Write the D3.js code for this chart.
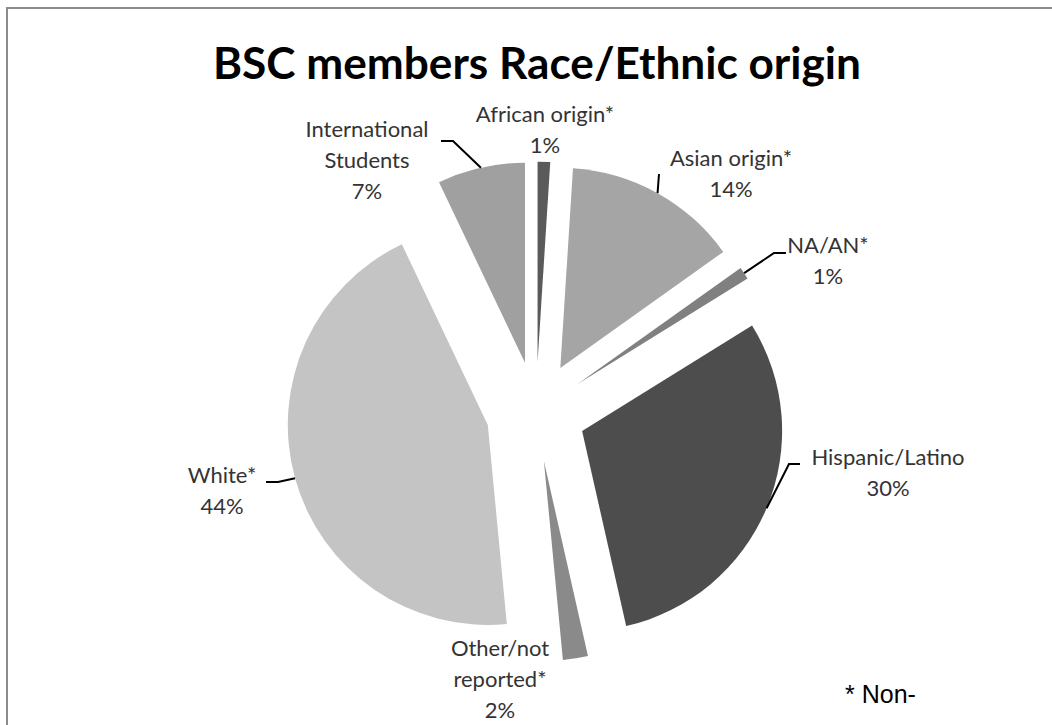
<!DOCTYPE html>
<html>
<head>
<meta charset="utf-8">
<script src="https://cdn.jsdelivr.net/npm/d3@7"></script>
<style>
  body { margin: 0; background: #fff; }
  svg { display: block; }
</style>
</head>
<body>
<svg id="chart" width="1052" height="725"></svg>
<script>
// slices, clockwise from 12 o'clock
const categories = ["African origin*", "Asian origin*", "NA/AN*", "Hispanic/Latino",
                    "Other/not reported*", "White*", "International Students"];
const values = [1, 14, 1, 30, 2, 44, 7];

const sliceColors = ["#5a5a5a", "#a5a5a5", "#808080", "#4d4d4d", "#8a8a8a", "#c4c4c4", "#a0a0a0"];

const width = 1052, height = 725;
const cx = 536, cy = 411.6;
const radius = 200, explode = 50;

// label placement (first baseline, centre x) and leader elbows
const labelLayout = [
  { x: 545, y: 122, lines: ["African origin*"], leader: null },
  { x: 731, y: 166, lines: ["Asian origin*"], leader: [[659, 174]] },
  { x: 828, y: 253, lines: ["NA/AN*"], leader: [[774, 253], [786, 253]] },
  { x: 888, y: 465, lines: ["Hispanic/Latino"], leader: [[789, 464], [800, 464]] },
  { x: 500, y: 656, lines: ["Other/not", "reported*"], leader: null },
  { x: 222, y: 483, lines: ["White*"], leader: [[278, 482], [266, 482]] },
  { x: 367, y: 137, lines: ["International", "Students"], leader: [[453, 141], [441, 141]] }
];
const lineGap = 31;

const svg = d3.select("#chart");

// outer frame (runs off the right and bottom edge)
svg.append("rect")
  .attr("x", 7).attr("y", 8)
  .attr("width", width + 20).attr("height", height + 20)
  .attr("fill", "none")
  .attr("stroke", "#8c8c8c")
  .attr("stroke-width", 2);

svg.append("text")
  .attr("x", 537).attr("y", 79)
  .attr("text-anchor", "middle")
  .attr("font-family", "Lato, 'Open Sans', sans-serif")
  .attr("font-weight", "bold")
  .attr("font-size", 44)
  .attr("textLength", 648)
  .attr("lengthAdjust", "spacingAndGlyphs")
  .attr("fill", "#000")
  .text("BSC members Race/Ethnic origin");

const pie = d3.pie().sort(null).value(d => d)(values);
const arc = d3.arc().innerRadius(0).outerRadius(radius);

const dir = a => [Math.sin(a), -Math.cos(a)];

const slices = svg.append("g");
slices.selectAll("path")
  .data(pie)
  .enter()
  .append("path")
  .attr("d", arc)
  .attr("fill", (d, i) => sliceColors[i])
  .attr("transform", d => {
    const m = (d.startAngle + d.endAngle) / 2;
    const [dx, dy] = dir(m);
    return `translate(${cx + dx * explode},${cy + dy * explode})`;
  });

// leader lines
pie.forEach((d, i) => {
  const lay = labelLayout[i];
  if (!lay.leader) return;
  const m = (d.startAngle + d.endAngle) / 2;
  const [dx, dy] = dir(m);
  const start = [cx + dx * (explode + radius), cy + dy * (explode + radius)];
  svg.append("path")
    .attr("d", d3.line()([start, ...lay.leader]))
    .attr("fill", "none")
    .attr("stroke", "#000")
    .attr("stroke-width", 2);
});

// labels
const labels = svg.append("g")
  .attr("font-family", "Lato, 'Open Sans', sans-serif")
  .attr("font-size", 22)
  .attr("fill", "#333")
  .attr("text-anchor", "middle");

pie.forEach((d, i) => {
  const lay = labelLayout[i];
  const rows = [...lay.lines, values[i] + "%"];
  const t = labels.append("text").attr("x", lay.x).attr("y", lay.y);
  rows.forEach((r, k) => {
    t.append("tspan")
      .attr("x", lay.x)
      .attr("y", lay.y + k * lineGap)
      .text(r);
  });
});

svg.append("text")
  .attr("x", 845).attr("y", 703)
  .attr("font-family", "'Liberation Sans', Arial, sans-serif")
  .attr("font-size", 25)
  .attr("fill", "#000")
  .text("* Non-");
</script>
</body>
</html>
